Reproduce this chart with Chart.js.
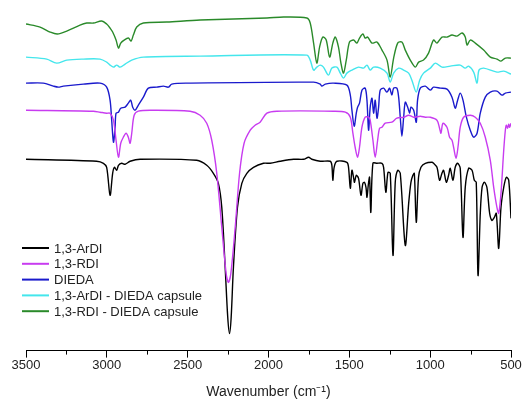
<!DOCTYPE html>
<html>
<head>
<meta charset="utf-8">
<script src="https://cdn.jsdelivr.net/npm/chart.js@4"></script>
<style>
  body { margin: 0; background: #fff; }
  #wrap { width: 525px; height: 402px; }
</style>
</head>
<body>
<div id="wrap"><canvas id="ftirGraph" width="525" height="402"></canvas></div>
<script>
// wavenumbers (cm-1) and relative transmittance (offset, arbitrary units)
const arDiX = [3500,3063,3021,3001,2980,2964,2953,2939,2928,2908,2887,2856,2794,2444,2382,2341,2310,2289,2268,2252,2241,2231,2217,2192,2165,2134,2093,2031,1990,1928,1845,1783,1752,1732,1680,1618,1608,1602,1594,1577,1515,1505,1494,1484,1474,1468,1457,1443,1428,1416,1406,1397,1391,1383,1375,1367,1354,1329,1298,1288,1274,1261,1247,1230,1216,1201,1185,1154,1133,1119,1107,1098,1086,1072,1057,1030,989,979,958,942,927,917,900,886,876,859,845,830,814,797,783,762,741,727,715,704,690,679,665,649,632,618,603,591,576,562,545,529,514,500];
const arDiY = [191,189,187,183,155,177,183,180,185,187,186,189,191,190,185,177,167,143,83,33,17,33,83,143,167,177,183,187,187,189,191,191,193,191,189,189,185,170,183,189,188,183,162,180,173,168,175,172,155,167,168,163,153,165,173,138,187,187,187,183,158,178,177,95,168,180,177,105,147,168,175,177,128,173,183,187,188,187,183,170,177,180,168,175,182,170,183,187,182,113,163,182,180,170,168,75,137,163,168,163,137,130,133,137,102,143,163,173,170,132];

const rdiX = [3500,3083,3042,3001,2980,2959,2943,2928,2914,2898,2881,2867,2856,2846,2831,2805,2732,2485,2423,2382,2351,2320,2289,2262,2248,2233,2206,2179,2151,2113,2083,2052,2010,1948,1598,1525,1494,1478,1464,1449,1437,1422,1402,1381,1371,1354,1340,1325,1313,1298,1278,1237,1206,1164,1133,1102,1061,1030,999,958,942,933,921,896,880,865,855,840,828,814,793,752,721,690,659,628,607,587,576,562,545,535,529,521,514,508,500];
const rdiY = [240,239,238,237,237,230,210,193,207,213,217,213,207,217,235,239,240,239,235,227,210,177,123,77,68,77,123,177,207,220,225,228,237,239,239,238,233,217,203,193,203,223,233,233,230,210,193,210,222,223,227,228,232,233,235,233,234,233,233,230,222,217,227,223,213,210,203,192,203,223,233,235,233,227,213,190,163,143,137,157,200,220,225,222,226,223,227];

const diedaX = [3500,3393,3331,3300,3269,3145,3042,3001,2980,2970,2959,2949,2943,2928,2914,2887,2867,2852,2840,2825,2805,2774,2743,2691,2650,2619,2598,2505,1721,1680,1670,1649,1598,1515,1494,1484,1470,1457,1449,1437,1422,1402,1391,1381,1371,1360,1350,1340,1329,1319,1309,1288,1267,1251,1237,1226,1206,1195,1185,1175,1164,1154,1139,1127,1119,1102,1086,1078,1061,1030,999,979,937,896,865,845,830,814,797,776,752,731,710,690,659,628,587,556,535,500];
const diedaY = [267,267,264,263,264,266,267,263,250,230,208,223,237,238,242,243,247,250,243,240,245,253,262,263,264,263,266,267,268,266,264,266,267,265,255,240,224,237,243,247,260,262,250,220,243,252,237,250,232,243,260,262,258,262,255,262,262,253,233,214,233,248,243,237,243,240,228,250,262,264,260,263,262,261,253,242,250,257,250,233,220,213,217,237,253,258,259,255,257,258];

const arCapX = [3500,3372,3310,3248,3145,3042,3001,2980,2959,2939,2918,2887,2846,2774,2423,1763,1742,1721,1701,1680,1660,1629,1608,1577,1556,1536,1515,1484,1443,1412,1391,1371,1350,1309,1267,1247,1226,1195,1164,1133,1113,1086,1065,1041,999,968,927,876,814,783,762,731,710,698,669,587,545,500];
const arCapY = [293,291,287,290,291,291,288,285,283,285,283,286,290,293,294,295,290,280,283,285,283,275,282,283,277,272,277,280,283,282,285,280,283,282,277,268,277,282,280,277,270,258,270,277,282,287,283,284,285,282,284,278,267,280,282,278,279,276];

const rdiCapX = [3500,3413,3351,3306,3248,3166,3124,3083,3032,3001,2980,2964,2943,2928,2914,2893,2867,2850,2836,2815,2774,2629,2423,2010,1907,1763,1742,1721,1701,1684,1664,1643,1622,1602,1587,1567,1552,1536,1519,1499,1474,1453,1437,1416,1402,1387,1360,1329,1298,1267,1247,1226,1201,1175,1154,1123,1092,1071,1041,1010,979,958,927,896,865,834,803,783,772,752,721,669,628,587,562,535,500];
const rdiCapY = [326,323,318,316,319,325,327,327,329,326,322,318,310,302,307,310,312,309,315,323,327,328,330,332,333,332,327,307,287,303,313,310,293,307,313,303,287,277,290,308,310,307,312,316,312,313,307,308,300,290,273,292,307,308,300,290,283,288,290,297,310,307,313,313,315,314,317,313,305,310,307,300,293,291,289,292,292];

const seriesNames  = ['1,3-ArDI', '1,3-RDI', 'DIEDA', '1,3-ArDI - DIEDA capsule', '1,3-RDI - DIEDA capsule'];
const seriesColors = ['#000000', '#c83cf0', '#1a1acc', '#44e6ec', '#2a8a2a'];
const xTicksMajor = [3500, 3000, 2500, 2000, 1500, 1000, 500];

function toPoints(xs, ys) {
    return xs.map((x, i) => ({ x: x, y: ys[i] }));
}

const allX = [arDiX, rdiX, diedaX, arCapX, rdiCapX];
const allY = [arDiY, rdiY, diedaY, arCapY, rdiCapY];

const datasets = seriesNames.map((name, i) => ({
    label: name,
    data: toPoints(allX[i], allY[i]),
    borderColor: seriesColors[i],
    borderWidth: 1.4,
    pointRadius: 0,
    fill: false,
    tension: 0.3,
    order: i === 1 ? 0 : i + 1
}));

// minor ticks between the labelled ones + legend inside the plot
const extras = {
    id: 'extras',
    afterDraw(chart) {
        const ctx = chart.ctx;
        const xs = chart.scales.x;
        const bottom = chart.chartArea.bottom;
        ctx.save();
        ctx.strokeStyle = '#000';
        ctx.lineWidth = 1;
        for (let v = 750; v < 3500; v += 500) {
            const px = Math.round(xs.getPixelForValue(v)) + 0.5;
            ctx.beginPath();
            ctx.moveTo(px, bottom);
            ctx.lineTo(px, bottom + 4);
            ctx.stroke();
        }
        ctx.font = '13px "Liberation Sans", Arial, sans-serif';
        ctx.textBaseline = 'middle';
        ctx.fillStyle = '#222';
        chart.data.datasets.forEach((ds, i) => {
            const y = 248 + i * 15.8;
            ctx.strokeStyle = ds.borderColor;
            ctx.lineWidth = 2;
            ctx.beginPath();
            ctx.moveTo(22, y);
            ctx.lineTo(49, y);
            ctx.stroke();
            ctx.fillText(ds.label, 54, y + 1);
        });
        ctx.restore();
    }
};

new Chart(document.getElementById('ftirGraph').getContext('2d'), {
    type: 'line',
    data: { datasets: datasets },
    options: {
        responsive: false,
        animation: false,
        layout: { padding: { left: 26, right: 14, top: 0, bottom: 0 } },
        plugins: { legend: { display: false }, tooltip: { enabled: false } },
        scales: {
            x: {
                type: 'linear',
                reverse: true,
                min: 500,
                max: 3500,
                afterBuildTicks: (scale) => {
                    scale.ticks = xTicksMajor.map(v => ({ value: v }));
                },
                grid: { drawOnChartArea: false, drawTicks: true, tickLength: 7, color: '#000' },
                border: { display: true, color: '#000', width: 1 },
                ticks: {
                    padding: 0,
                    color: '#222',
                    maxRotation: 0,
                    autoSkip: false,
                    callback: (v) => String(v),
                    font: { family: '"Liberation Sans", Arial, sans-serif', size: 13 }
                },
                title: {
                    display: true,
                    text: 'Wavenumber (cm⁻¹)',
                    color: '#222',
                    padding: { top: 11, bottom: 1 },
                    font: { family: '"Liberation Sans", Arial, sans-serif', size: 14 }
                }
            },
            y: {
                display: false,
                min: 0,
                max: 350
            }
        }
    },
    plugins: [extras]
});
</script>
</body>
</html>
